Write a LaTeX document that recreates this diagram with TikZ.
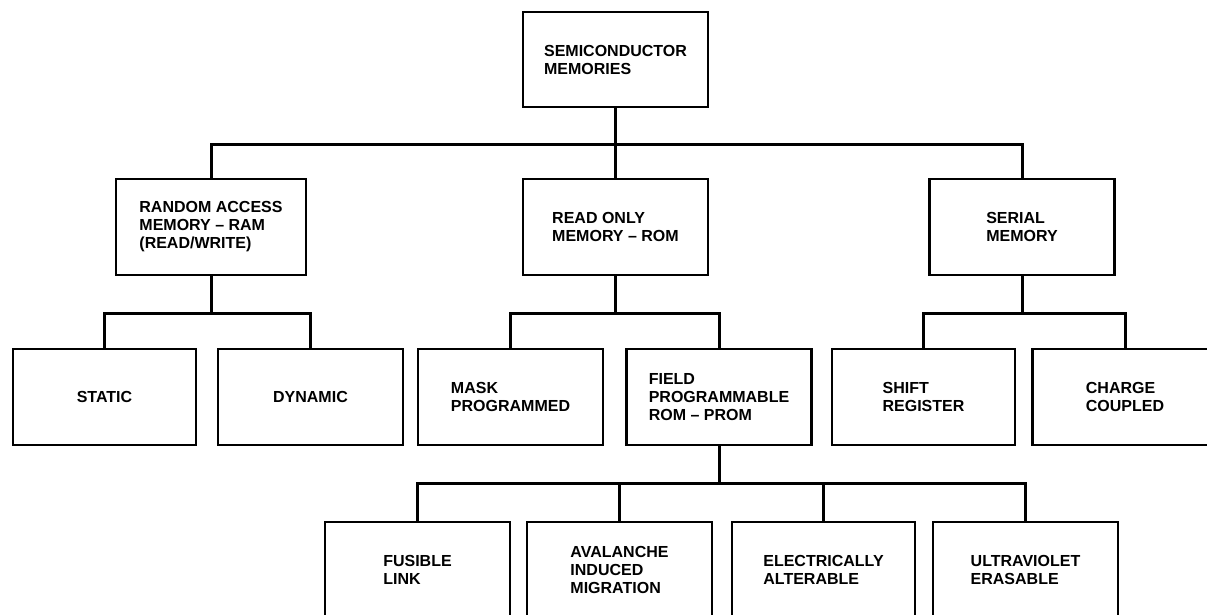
\documentclass[tikz,border=0pt]{standalone}
\usepackage{fontspec}
\setsansfont{Liberation Sans}
\usepackage{tikz}
\usetikzlibrary{positioning}
\tikzset{
    every node/.style={font=\sffamily\bfseries\fontsize{16}{18}\selectfont},
    link/.style={line width=3pt},
    box/.style={rectangle, draw, line width=2.2pt, align=left, inner sep=0pt,
        minimum width=185pt, minimum height=96pt}
}
\begin{document}
\begin{tikzpicture}[x=1pt, y=-1pt]
\useasboundingbox (0,0) rectangle (1207,614);

% top and second level
\node[box, minimum height=95pt] (SC) at (615.5,59.5) {SEMICONDUCTOR\\MEMORIES};
\node[box, minimum width=190pt] (RAM) at (211,227) {RANDOM ACCESS\\MEMORY -- RAM\\(READ/WRITE)};
\node[box] (ROM) at (615.5,227) {READ ONLY\\MEMORY -- ROM};
\node[box] (SER) at (1022,227) {SERIAL\\MEMORY};

% third level
\node[box, minimum width=183pt] (STA) at (104.5,397) {STATIC};
\node[box] (DYN) at (310.5,397) {DYNAMIC};
\node[box] (MASK) at (510.5,397) {MASK\\PROGRAMMED};
\node[box] (PROM) at (719,397) {FIELD\\PROGRAMMABLE\\ROM -- PROM};
\node[box, minimum width=183pt] (SHR) at (923.5,397) {SHIFT\\REGISTER};
\node[box] (CCD) at (1125,397) {CHARGE\\COUPLED};

% fourth level
\node[box] (FUS) at (417.5,570) {FUSIBLE\\LINK};
\node[box] (AVA) at (619.5,570) {AVALANCHE\\INDUCED\\MIGRATION};
\node[box, minimum width=183pt] (EAL) at (823.5,570) {ELECTRICALLY\\ALTERABLE};
\node[box] (UVE) at (1025.5,570) {ULTRAVIOLET\\ERASABLE};

% buses
\coordinate (b1) at (SC.south |- 0,144);
\coordinate (b2) at (RAM.south |- 0,313);
\coordinate (b3) at (ROM.south |- 0,313);
\coordinate (b4) at (SER.south |- 0,313);
\coordinate (b5) at (PROM.south |- 0,483);

\draw[link] (SC.south) -- (b1);
\draw[link] (RAM.north) |- (b1) -| (SER.north);
\draw[link] (b1) -- (ROM.north);

\draw[link] (RAM.south) -- (b2);
\draw[link] (STA.north) |- (b2) -| (DYN.north);
\draw[link] (ROM.south) -- (b3);
\draw[link] (MASK.north) |- (b3) -| (PROM.north);
\draw[link] (SER.south) -- (b4);
\draw[link] (SHR.north) |- (b4) -| (CCD.north);

\draw[link] (PROM.south) -- (b5);
\draw[link] (FUS.north) |- (b5) -| (UVE.north);
\draw[link] (AVA.north) -- (AVA.north |- b5);
\draw[link] (EAL.north) -- (EAL.north |- b5);

\end{tikzpicture}
\end{document}
